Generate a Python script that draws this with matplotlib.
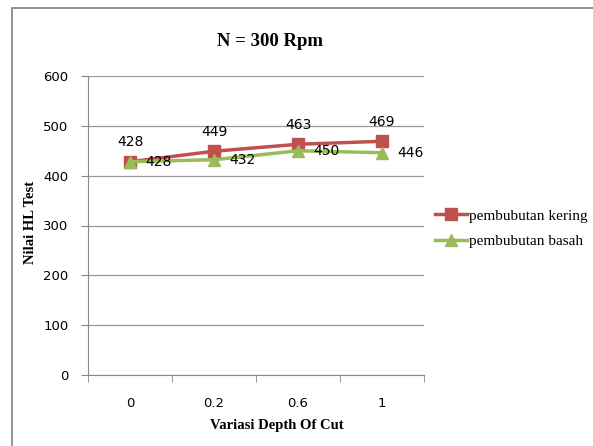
import numpy as np
import matplotlib.pyplot as plt
from matplotlib.patches import Rectangle

# data
categories = ["0", "0.2", "0.6", "1"]
kering = [428, 449, 463, 469]
basah = [428, 432, 450, 446]

red = "#C0504D"
green = "#9BBB59"
W, H = 593, 446

fig = plt.figure(figsize=(W / 100, H / 100), dpi=100)
ax = fig.add_axes([88 / W, 1 - 375 / H, 336 / W, 299 / H])

# outer chart frame (only left and top edges visible)
fig.patches.append(Rectangle((12 / W, -0.1), 1.2, 1 - 8 / H + 0.1,
                             transform=fig.transFigure, fill=False,
                             edgecolor="#8a8a8a", linewidth=1.3))

x = np.arange(len(categories))
ax.plot(x, kering, color=red, linewidth=2.5, marker="s", markersize=8,
        label="pembubutan kering", zorder=3)
ax.plot(x, basah, color=green, linewidth=2.5, marker="^", markersize=9,
        label="pembubutan basah", zorder=3)

for xi, v in zip(x, kering):
    ax.annotate(str(v), (xi, v), xytext=(0, 9), textcoords="offset points",
                ha="center", va="bottom", fontsize=10, family="DejaVu Sans")
for xi, v in zip(x, basah):
    ax.annotate(str(v), (xi, v), xytext=(11, 0), textcoords="offset points",
                ha="left", va="center", fontsize=10, family="DejaVu Sans")

ax.set_xlim(-0.5, 3.5)
ax.set_ylim(0, 600)
ax.set_yticks(range(0, 601, 100))
ax.set_xticks(x)
ax.set_xticklabels(categories)
ax.set_xticks(np.arange(-0.5, 3.6, 1), minor=True)
ax.tick_params(axis="x", which="major", length=0, pad=16, labelsize=9.5)
ax.tick_params(axis="x", which="minor", length=5, color="#888888", direction="out")
ax.tick_params(axis="y", length=5, color="#888888", labelsize=9.5, pad=9)
ax.grid(axis="y", color="#999999", linewidth=0.9)
ax.set_axisbelow(True)
for s in ["top", "right"]:
    ax.spines[s].set_visible(False)
for s in ["left", "bottom"]:
    ax.spines[s].set_color("#888888")

fig.text(270 / W, 1 - 41 / H, "N = 300 Rpm", fontsize=13.5, fontweight="bold",
         family="Liberation Serif", ha="center", va="center")
fig.text(277 / W, 1 - 425 / H, "Variasi Depth Of Cut", fontsize=10.5,
         fontweight="bold", family="Liberation Serif", ha="center", va="center")
fig.text(30 / W, 1 - 222 / H, "Nilai HL Test", fontsize=10.5, rotation=90,
         fontweight="bold", family="Liberation Serif", ha="center", va="center")

ax.legend(loc="center left", bbox_to_anchor=(435 / W, 1 - 228.5 / H),
          bbox_transform=fig.transFigure, frameon=False, borderpad=0,
          borderaxespad=0, prop={"family": "Liberation Serif", "size": 11},
          handlelength=2.1, handletextpad=0.15, labelspacing=0.75)

fig.savefig("out.png", dpi=100)
